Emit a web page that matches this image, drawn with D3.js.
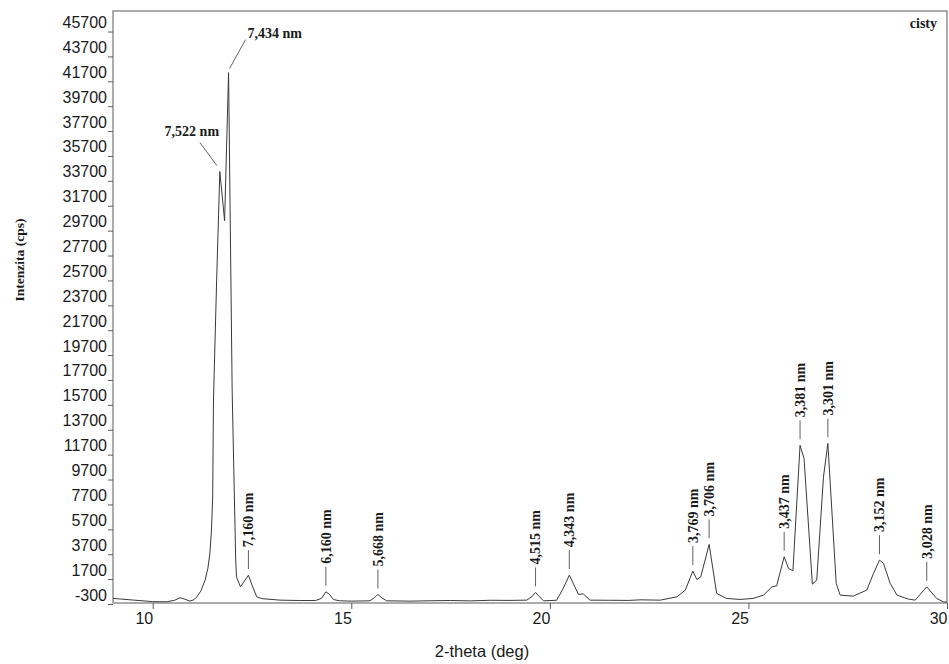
<!DOCTYPE html>
<html>
<head>
<meta charset="utf-8">
<script src="https://cdn.jsdelivr.net/npm/d3@7"></script>
<style>
	body { margin: 0; background: #fff; }
	svg { display: block; }
</style>
</head>
<body>
<svg id="chart" width="949" height="664"></svg>
<script>
// Diffraction pattern
const twoTheta = [
	9.00, 9.50, 10.00, 10.35, 10.55, 10.69, 10.81, 10.94, 11.04, 11.11,
	11.21, 11.32, 11.39, 11.44, 11.48, 11.51, 11.53, 11.61, 11.69, 11.81,
	11.91, 12.00, 12.09, 12.11, 12.21, 12.41, 12.50, 12.62, 12.75, 13.21,
	13.70, 14.10, 14.25, 14.36, 14.45, 14.55, 14.70, 15.00, 15.47, 15.58,
	15.67, 15.77, 15.89, 16.50, 17.00, 17.50, 18.00, 18.50, 19.00, 19.42,
	19.55, 19.64, 19.72, 19.84, 20.17, 20.34, 20.49, 20.72, 20.84, 21.01,
	21.50, 22.00, 22.27, 22.78, 23.20, 23.41, 23.60, 23.70, 23.80, 24.01,
	24.20, 24.45, 24.79, 25.12, 25.38, 25.59, 25.71, 25.90, 26.01, 26.12,
	26.30, 26.40, 26.61, 26.72, 26.89, 27.00, 27.21, 27.31, 27.64, 27.98,
	28.15, 28.30, 28.40, 28.57, 28.74, 29.03, 29.20, 29.49, 29.74, 29.91,
	30.00,
]
const intensity = [
	150, 20, -110, -125, 0, 200, 90, -70, 50, 276,
	734, 1620, 2580, 3790, 5640, 8290, 16090, 25740, 34450, 30500,
	42400, 16890, 3230, 1884, 1080, 2020, 1217, 276, 130, 10,
	-20, -20, 150, 680, 480, 60, -40, -70, -45, 200,
	470, 200, -45, -70, -40, -20, -50, 0, -10, 10,
	300, 630, 350, -45, 0, 976, 2020, 469, 518, 10,
	0, -10, 35, 10, 276, 815, 2342, 1675, 1884, 4489,
	550, 148, 67, 148, 413, 1080, 1161, 3492, 2560, 2367,
	12450, 11400, 1297, 1619, 9923, 12600, 1354, 413, 333, 815,
	2158, 3227, 2962, 1354, 413, 92, 11, 1080, 148, -125,
	-150,
]

const yTicks = d3.range(-300, 45701, 2000)
const xTicks = [10, 15, 20, 25, 30]

const peakNames = [
	"7,522 nm", "7,434 nm", "7,160 nm", "6,160 nm", "5,668 nm", "4,515 nm", "4,343 nm",
	"3,769 nm", "3,706 nm", "3,437 nm", "3,381 nm", "3,301 nm", "3,152 nm", "3,028 nm",
]
const peakPositions = [
	11.69, 11.91, 12.41, 14.36, 15.67, 19.64, 20.49,
	23.60, 24.01, 25.90, 26.30, 27.00, 28.30, 29.49,
]

const sampleName = "cisty"
const xTitle = "2-theta (deg)"
const yTitle = "Intenzita (cps)"

const config = {
	width: 949,
	height: 664,
	plot: { left: 113, right: 947, top: 11, bottom: 603 },
	frame: "#5a5a5a",
	curve: "#3a3a3a",
	text: "#1a1a1a",
	sans: "'Liberation Sans', Arial, sans-serif",
	serif: "'Liberation Serif', 'Times New Roman', serif",
	leader: { gap: 6, length: 19, pad: 3 },
	// the two labels of the doublet sit beside the peak with slanted leaders
	slanted: {
		"7,522 nm": { from: [-3, -6], to: [-20, -29], text: [-28, -36], anchor: "middle" },
		"7,434 nm": { from: [1, -4], to: [17, -33], text: [19, -35], anchor: "start" },
	},
}

const svg = d3.select("#chart")
const p = config.plot

const x = d3.scaleLinear().domain([9, 30]).range([p.left, p.right])
const y = d3.scaleLinear().domain([-300, 45700]).range([604, 31.5])

const points = twoTheta.map((t, i) => ({ t: t, v: intensity[i] }))

// Frame
svg.append("rect")
	.attr("x", p.left)
	.attr("y", p.top)
	.attr("width", p.right - p.left)
	.attr("height", p.bottom - p.top)
	.attr("fill", "none")
	.attr("stroke", config.frame)
	.attr("stroke-width", 1)

// Y axis
let yAxis = svg.append("g")
	.attr("transform", `translate(${p.left}, 0)`)
	.call(d3.axisLeft(y)
		.tickValues(yTicks)
		.tickSize(5)
		.tickFormat(d => String(d)))
yAxis.select(".domain").remove()
yAxis.selectAll("line").attr("stroke", config.frame)
yAxis.selectAll("text")
	.attr("x", -6)
	.attr("dy", -4)
	.attr("fill", config.text)
	.attr("font-family", config.sans)
	.attr("font-size", 16)

// X axis
let xAxis = svg.append("g")
	.attr("transform", `translate(0, ${p.bottom})`)
	.call(d3.axisBottom(x)
		.tickValues(xTicks)
		.tickSize(6)
		.tickFormat(d => String(d)))
xAxis.select(".domain").remove()
xAxis.selectAll("line").attr("stroke", config.frame)
xAxis.selectAll("text")
	.attr("y", 21)
	.attr("dy", 0)
	.attr("text-anchor", "end")
	.attr("fill", config.text)
	.attr("font-family", config.sans)
	.attr("font-size", 16)

// Pattern
svg.append("path")
	.datum(points)
	.attr("fill", "none")
	.attr("stroke", config.curve)
	.attr("stroke-width", 1)
	.attr("stroke-linejoin", "miter")
	.attr("d", d3.line().x(d => x(d.t)).y(d => y(d.v)))

// Peak labels
function peakPoint(pos) {
	// highest measured point close to the labelled position
	let near = points.filter(d => Math.abs(d.t - pos) < 0.06)
	return near.reduce((a, b) => (b.v > a.v ? b : a))
}

let labels = svg.append("g")
	.attr("font-family", config.serif)
	.attr("font-weight", "bold")
	.attr("font-size", 14)
	.attr("fill", config.text)

peakNames.forEach((name, i) => {
	let pk = peakPoint(peakPositions[i])
	let px = x(pk.t)
	let py = y(pk.v)
	let s = config.slanted[name]
	if (s) {
		labels.append("line")
			.attr("x1", px + s.from[0]).attr("y1", py + s.from[1])
			.attr("x2", px + s.to[0]).attr("y2", py + s.to[1])
			.attr("stroke", config.curve)
			.attr("stroke-width", 0.8)
		labels.append("text")
			.attr("x", px + s.text[0])
			.attr("y", py + s.text[1])
			.attr("text-anchor", s.anchor)
			.text(name)
		return
	}
	let l = config.leader
	labels.append("line")
		.attr("x1", px).attr("x2", px)
		.attr("y1", py - l.gap)
		.attr("y2", py - l.gap - l.length)
		.attr("stroke", config.curve)
		.attr("stroke-width", 0.8)
	labels.append("text")
		.attr("transform", `translate(${px}, ${py - l.gap - l.length - l.pad}) rotate(-90)`)
		.attr("dy", "0.35em")
		.attr("text-anchor", "start")
		.text(name)
})

// Sample name and titles
svg.append("text")
	.attr("x", 937)
	.attr("y", 28)
	.attr("text-anchor", "end")
	.attr("font-family", config.serif)
	.attr("font-weight", "bold")
	.attr("font-size", 14)
	.attr("fill", config.text)
	.text(sampleName)

svg.append("text")
	.attr("transform", "translate(19, 260) rotate(-90)")
	.attr("dy", "0.35em")
	.attr("text-anchor", "middle")
	.attr("font-family", config.serif)
	.attr("font-weight", "bold")
	.attr("font-size", 13.5)
	.attr("fill", config.text)
	.text(yTitle)

svg.append("text")
	.attr("x", 482)
	.attr("y", 657)
	.attr("text-anchor", "middle")
	.attr("font-family", config.sans)
	.attr("font-size", 16.5)
	.attr("fill", config.text)
	.text(xTitle)
</script>
</body>
</html>
